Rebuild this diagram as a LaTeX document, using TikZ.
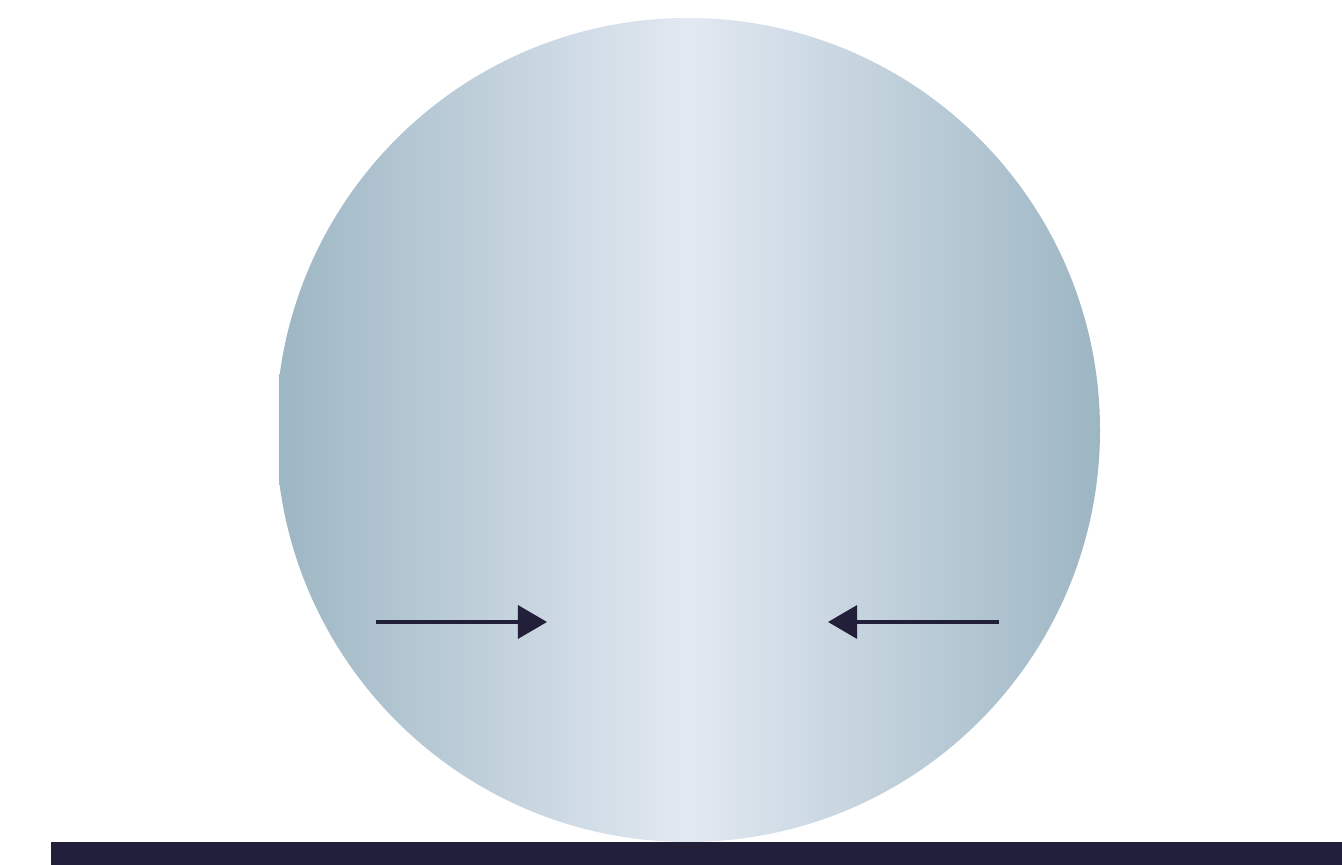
\documentclass[tikz,border=0pt]{standalone}
\usetikzlibrary{arrows.meta}
\definecolor{rimblue}{HTML}{9DB6C3}
\definecolor{coreblue}{HTML}{E2E9F2}
\definecolor{inkdark}{HTML}{221F3A}
\tikzset{
  push/.style={draw=inkdark, line width=0.9pt, -{Triangle[length=2.9mm, width=3.3mm]}},
  floor/.style={fill=inkdark, draw=none}
}
\begin{document}
\begin{tikzpicture}[x=0.01cm, y=-0.01cm]
  \useasboundingbox (0,0) rectangle (1342,865);

  % Ball, cut flat on its left side
  \begin{scope}
    \clip (279,0) rectangle (1342,865);
    \shade[left color=rimblue, right color=rimblue, middle color=coreblue]
      (688,430) circle[radius=412];
  \end{scope}

  % Ground
  \fill[floor] (51,842) rectangle (1342,865);

  % Squeezing forces
  \coordinate (leftstart) at (376,622);
  \coordinate (lefttip) at (547,622);
  \coordinate (rightstart) at (999,622);
  \coordinate (righttip) at (828,622);
  \draw[push] (leftstart) -- (lefttip);
  \draw[push] (rightstart) -- (righttip);
\end{tikzpicture}
\end{document}
